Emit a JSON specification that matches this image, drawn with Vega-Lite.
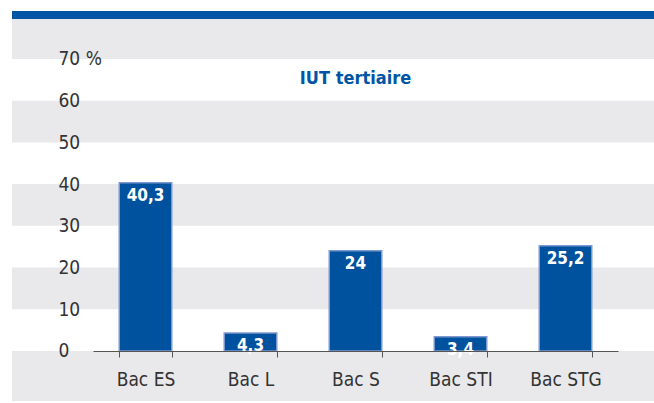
{
  "$schema": "https://vega.github.io/schema/vega-lite/v6.json",
  "autosize": {"type": "none"},
  "width": 642,
  "height": 390,
  "padding": {"left": 12, "top": 11, "right": 0, "bottom": 2},
  "background": "#ffffff",
  "config": {
    "view": {"fill": "#E9E9EC", "stroke": null},
    "locale": {"number": {"decimal": ",", "thousands": "\u00a0", "grouping": [3], "currency": ["", " €"]}},
    "font": "DejaVu Sans Condensed, sans-serif"
  },
  "datasets": {
    "bars": [
      {"bac": "Bac ES", "pct": 40.3},
      {"bac": "Bac L", "pct": 4.3},
      {"bac": "Bac S", "pct": 24},
      {"bac": "Bac STI", "pct": 3.4},
      {"bac": "Bac STG", "pct": 25.2}
    ],
    "bands": [
      {"lo": 0, "hi": 10},
      {"lo": 20, "hi": 30},
      {"lo": 40, "hi": 50},
      {"lo": 60, "hi": 70}
    ],
    "topband": [{"lo": 79.6, "hi": 81.5}],
    "title": [{"t": "IUT tertiaire"}]
  },
  "layer": [
    {
      "data": {"name": "bands"},
      "mark": {"type": "rect", "fill": "#ffffff"},
      "encoding": {
        "y": {"field": "lo", "type": "quantitative", "scale": {"domain": [-12, 81.5], "nice": false, "zero": false}},
        "y2": {"field": "hi"}
      }
    },
    {
      "data": {"name": "topband"},
      "mark": {"type": "rect", "fill": "#0055A4"},
      "encoding": {
        "y": {"field": "lo", "type": "quantitative"},
        "y2": {"field": "hi"}
      }
    },
    {
      "data": {"name": "bars"},
      "mark": {"type": "bar", "fill": "#00529F", "stroke": "#7D98CF", "strokeWidth": 1.5},
      "encoding": {
        "x": {
          "field": "bac", "type": "nominal", "sort": null,
          "scale": {"domain": ["Bac ES", "Bac L", "Bac S", "Bac STI", "Bac STG"], "range": [81, 606], "paddingInner": 0.5, "paddingOuter": 0.25},
          "axis": {
            "title": null, "orient": "bottom", "offset": -50, "labelAngle": 0, "zindex": 1,
            "domainColor": "#555555", "domainWidth": 1,
            "tickColor": "#555555", "tickSize": 6, "tickWidth": 1, "tickBand": "extent",
            "labelFontSize": 19, "labelColor": "#333333", "labelPadding": 13
          }
        },
        "y": {
          "field": "pct", "type": "quantitative",
          "axis": {
            "title": null, "orient": "left", "offset": -46, "zindex": 1,
            "values": [0, 10, 20, 30, 40, 50, 60, 70],
            "labelExpr": "datum.value == 0 ? '\u00a0\u00a00' : datum.value == 70 ? '70 %' : datum.label",
            "labelAlign": "left", "labelBaseline": "middle", "labelPadding": 0,
            "ticks": false, "tickSize": 0, "domain": false, "grid": false,
            "labelFontSize": 19, "labelColor": "#333333"
          }
        }
      }
    },
    {
      "data": {"name": "bars"},
      "mark": {"type": "text", "color": "#ffffff", "fontWeight": "bold", "fontSize": 17, "baseline": "top", "dy": 5},
      "encoding": {
        "x": {"field": "bac", "type": "nominal", "sort": null},
        "y": {"field": "pct", "type": "quantitative"},
        "text": {"field": "pct", "type": "quantitative", "format": ".1~f"}
      }
    },
    {
      "data": {"name": "title"},
      "mark": {"type": "text", "color": "#0055A4", "fontWeight": "bold", "fontSize": 18, "baseline": "middle"},
      "encoding": {
        "x": {"datum": "Bac S", "type": "nominal"},
        "y": {"datum": 65.3, "type": "quantitative"},
        "text": {"field": "t"}
      }
    }
  ]
}
